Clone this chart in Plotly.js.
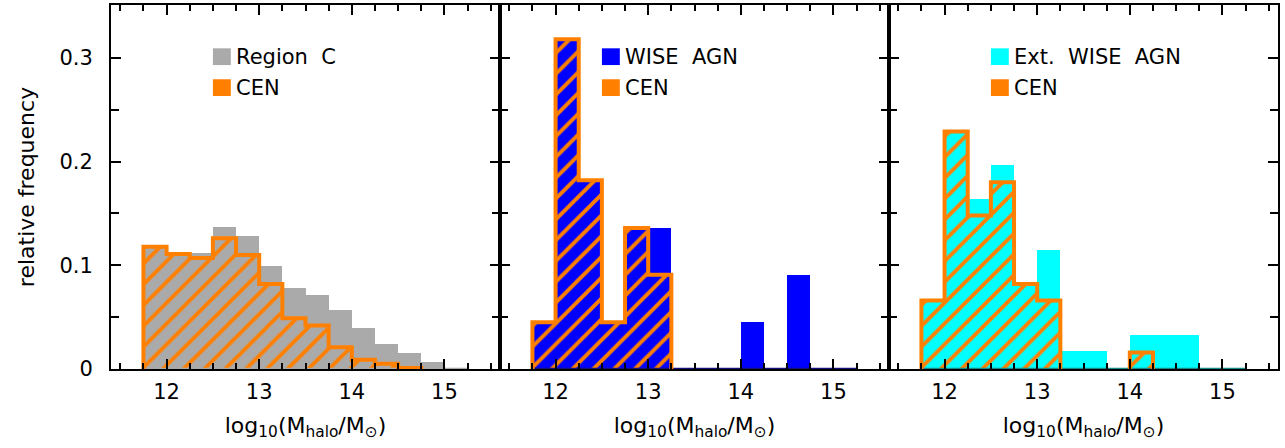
<!DOCTYPE html>
<html>
<head>
<meta charset="utf-8">
<script src="https://cdn.plot.ly/plotly-3.0.1.min.js"></script>
<style>
  html, body { margin: 0; padding: 0; background: #fff; }
  #chart { width: 1285px; height: 448px; }
</style>
</head>
<body>
<div id="chart"></div>
<script>
// Halo-mass histograms: bins of 0.25 dex starting at log10(M) = 11.75
const binStart = 11.75;
const binWidth = 0.25;

// Panel 1: Region C sample and its centrals
const regionC = [0.117, 0.111, 0.112, 0.137, 0.128, 0.099, 0.078, 0.071, 0.057, 0.040, 0.024, 0.015, 0.0064, 0.0013];
const cenRegionC = [0.118, 0.111, 0.107, 0.126, 0.110, 0.082, 0.049, 0.042, 0.021, 0.009, 0.005, 0.001, 0, 0];

// Panel 2: WISE AGN and its centrals
const wiseAGN = [0.045, 0.318, 0.182, 0.045, 0.136, 0.136, 0, 0, 0, 0.045, 0, 0.091, 0, 0];
const cenWiseAGN = [0.045, 0.318, 0.182, 0.045, 0.136, 0.091, 0, 0, 0, 0, 0, 0, 0, 0];

// Panel 3: extended WISE AGN and its centrals
const extWiseAGN = [0.066, 0.229, 0.164, 0.197, 0.082, 0.115, 0.017, 0.017, 0, 0.033, 0.033, 0.033, 0, 0];
const cenExtWiseAGN = [0.066, 0.229, 0.148, 0.180, 0.082, 0.066, 0, 0, 0, 0.016, 0, 0, 0, 0];

const sampleNames = ['Region  C', 'WISE  AGN', 'Ext.  WISE  AGN'];
const centralName = 'CEN';
const xTickVals = [12, 13, 14, 15];
const yTickVals = [0, 0.1, 0.2, 0.3];
const yTickText = ['0', '0.1', '0.2', '0.3'];

const ORANGE = '#ff8000';
const FONT = 'DejaVu Sans, Liberation Sans, sans-serif';

const binCenters = vals => vals.map((_, i) => binStart + binWidth * (i + 0.5));
const edge = i => binStart + binWidth * i;

// Step outline around each contiguous run of non-empty bins
function stepOutline(vals) {
  const xs = [], ys = [];
  let i = 0;
  while (i < vals.length) {
    if (vals[i] > 0) {
      let j = i;
      xs.push(edge(i)); ys.push(0);
      while (j < vals.length && vals[j] > 0) {
        xs.push(edge(j)); ys.push(vals[j]);
        xs.push(edge(j + 1)); ys.push(vals[j]);
        j++;
      }
      xs.push(edge(j)); ys.push(0);
      xs.push(null); ys.push(null);
      i = j;
    } else {
      i++;
    }
  }
  return { x: xs, y: ys };
}

const panels = [
  { sample: regionC, cen: cenRegionC, color: '#aaaaaa', base: '#aaaaaa' },
  { sample: wiseAGN, cen: cenWiseAGN, color: '#0000ff', base: '#10107a' },
  { sample: extWiseAGN, cen: cenExtWiseAGN, color: '#00ffff', base: '#168a8a' }
];

const traces = [];
panels.forEach((p, k) => {
  const xa = k === 0 ? 'x' : 'x' + (k + 1);
  const ya = k === 0 ? 'y' : 'y' + (k + 1);
  // baseline of the full-sample histogram (visible where bins are empty)
  traces.push({
    type: 'scatter', mode: 'lines', xaxis: xa, yaxis: ya,
    x: [edge(0), edge(p.sample.length)], y: [0, 0],
    line: { color: p.base, width: 2.5 }, hoverinfo: 'skip'
  });
  traces.push({
    type: 'bar', xaxis: xa, yaxis: ya,
    x: binCenters(p.sample), y: p.sample, width: binWidth,
    marker: { color: p.color, line: { width: 0 } }
  });
  traces.push({
    type: 'bar', xaxis: xa, yaxis: ya,
    x: binCenters(p.cen), y: p.cen, width: binWidth,
    marker: {
      color: 'rgba(0,0,0,0)', line: { width: 0 },
      pattern: { shape: '/', fgcolor: ORANGE, fgopacity: 1, bgcolor: 'rgba(0,0,0,0)', size: 14.7, solidity: 0.27, fillmode: 'overlay' }
    }
  });
  const o = stepOutline(p.cen);
  traces.push({
    type: 'scatter', mode: 'lines', xaxis: xa, yaxis: ya,
    x: o.x, y: o.y, connectgaps: false,
    line: { color: ORANGE, width: 4 }, hoverinfo: 'skip'
  });
});

const xBase = {
  range: [11.4, 15.6], showline: true, linewidth: 2, linecolor: '#000', mirror: 'allticks',
  ticks: 'inside', ticklen: 10, tickwidth: 2, tickcolor: '#000',
  tickvals: xTickVals, ticktext: xTickVals.map(String), ticklabelstandoff: 3,
  minor: { tickvals: [11.5, 11.75, 12.25, 12.5, 12.75, 13.25, 13.5, 13.75, 14.25, 14.5, 14.75, 15.25, 15.5], ticks: 'inside', ticklen: 6, tickwidth: 2, tickcolor: '#000' },
  showgrid: false, zeroline: false, fixedrange: true,
  tickfont: { family: FONT, size: 21, color: '#000' },
  title: { text: 'log<sub>10</sub>(M<sub>halo</sub>/M<sub>⊙</sub>)', font: { family: FONT, size: 22, color: '#000' }, standoff: 14 }
};
const yBase = {
  range: [0, 0.351], showline: true, linewidth: 2, linecolor: '#000', mirror: 'allticks',
  ticks: 'inside', ticklen: 10, tickwidth: 2, tickcolor: '#000',
  tickvals: yTickVals, ticktext: yTickText,
  minor: { tickvals: [0.05, 0.15, 0.25], ticks: 'inside', ticklen: 8, tickwidth: 2, tickcolor: '#000' },
  showgrid: false, zeroline: false, fixedrange: true,
  tickfont: { family: FONT, size: 21, color: '#000' }, ticklabelstandoff: 12
};

const layout = {
  width: 1285, height: 448,
  margin: { l: 111, r: 7, t: 5, b: 79 },
  paper_bgcolor: '#fff', plot_bgcolor: '#fff',
  barmode: 'overlay', bargap: 0, showlegend: false,
  font: { family: FONT, color: '#000' },
  xaxis: Object.assign({}, xBase, { domain: [0, 1 / 3], anchor: 'y' }),
  xaxis2: Object.assign({}, xBase, { domain: [1 / 3, 2 / 3], anchor: 'y2' }),
  xaxis3: Object.assign({}, xBase, { domain: [2 / 3, 1], anchor: 'y3' }),
  yaxis: Object.assign({}, yBase, {
    domain: [0, 1], anchor: 'x',
    title: { text: 'relative frequency', font: { family: FONT, size: 22, color: '#000' }, standoff: 19 }
  }),
  yaxis2: Object.assign({}, yBase, { domain: [0, 1], anchor: 'x2', showticklabels: false }),
  yaxis3: Object.assign({}, yBase, { domain: [0, 1], anchor: 'x3', showticklabels: false }),
  shapes: [], annotations: []
};

// In-panel key: coloured squares with labels
panels.forEach((p, k) => {
  const xr = (k === 0 ? 'x' : 'x' + (k + 1)) + ' domain';
  const yr = (k === 0 ? 'y' : 'y' + (k + 1)) + ' domain';
  [[p.color, sampleNames[k], 0.835, 0.881], [ORANGE, centralName, 0.75, 0.796]].forEach(([c, label, y0, y1]) => {
    layout.shapes.push({ type: 'rect', xref: xr, yref: yr, x0: 0.262, x1: 0.308, y0: y0, y1: y1, fillcolor: c, line: { width: 0 } });
    layout.annotations.push({
      xref: xr, yref: yr, x: 0.316, y: (y0 + y1) / 2, xanchor: 'left', yanchor: 'middle',
      text: label, showarrow: false, font: { family: FONT, size: 21, color: '#000' }
    });
  });
});

Plotly.newPlot('chart', traces, layout, { staticPlot: true, displayModeBar: false });
</script>
</body>
</html>
